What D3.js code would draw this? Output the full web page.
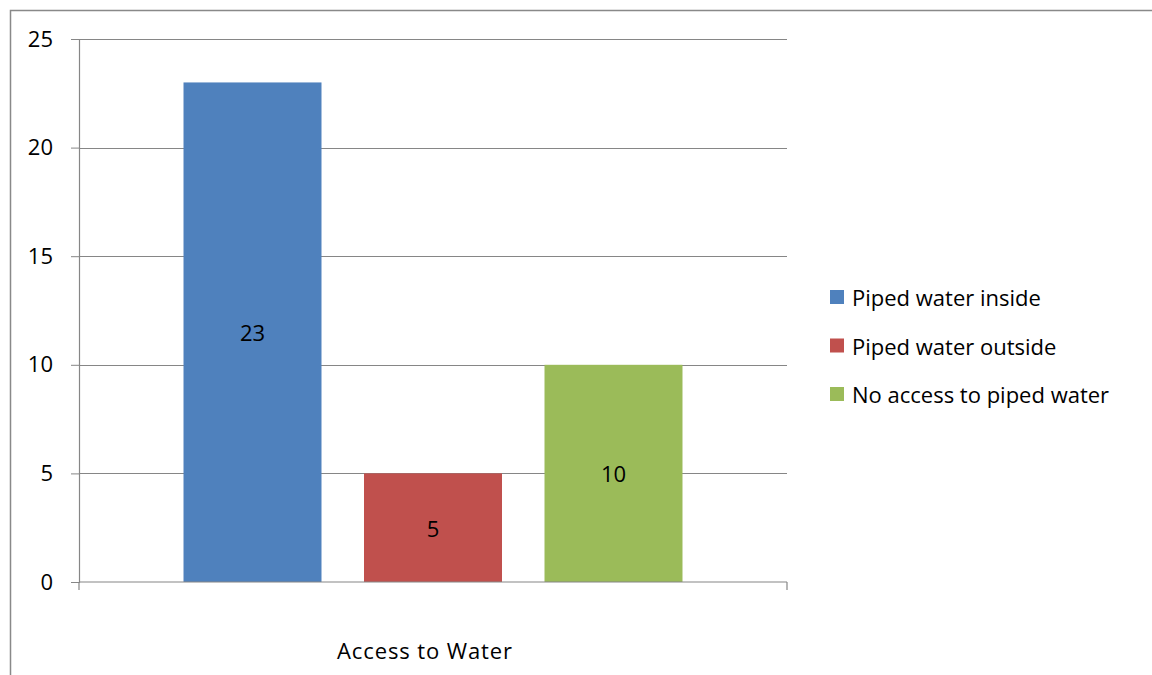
<!DOCTYPE html>
<html>
<head>
<meta charset="utf-8">
<script src="https://cdn.jsdelivr.net/npm/d3@7"></script>
<style>
  body { margin: 0; background: #fff; }
  text { font-family: 'Open Sans', Lato, sans-serif; fill: #000; }
</style>
</head>
<body>
<div id="chart"></div>
<script>
// data
const categories = ['Access to Water'];
const seriesNames = ['Piped water inside', 'Piped water outside', 'No access to piped water'];
const seriesValues = [23, 5, 10];
const seriesColors = ['#4F81BD', '#C0504D', '#9BBB59'];
const yTicks = [0, 5, 10, 15, 20, 25];

const W = 1152, H = 675;
const margin = { top: 39, left: 79, right: 365, bottom: 93 };
const width = W - margin.left - margin.right,
  height = H - margin.top - margin.bottom;
const fontSize = '22px';

const root = d3.select('#chart')
  .append('svg')
  .attr('width', W)
  .attr('height', H);

// outer chart border (cut off on right / bottom like the source)
root.append('path')
  .attr('d', 'M10.5,' + H + 'V10.5H' + W)
  .attr('fill', 'none')
  .attr('stroke', '#898989')
  .attr('stroke-width', 1.5);

const svg = root.append('g')
  .attr('transform', 'translate(' + margin.left + ',' + margin.top + ')');

// scales
const y = d3.scaleLinear().domain([0, 25]).range([height, 0]);
const x0 = d3.scaleBand().domain(categories).range([0, width]);
const x1 = d3.scaleBand()
  .domain(seriesNames)
  .range([0, x0.bandwidth()])
  .paddingInner(0.2355)
  .paddingOuter(0.579);

// gridlines
svg.append('g')
  .selectAll('line')
  .data(yTicks.filter(d => d > 0))
  .enter()
  .append('line')
  .attr('x1', 0)
  .attr('x2', width)
  .attr('y1', d => Math.round(y(d)) + 0.5)
  .attr('y2', d => Math.round(y(d)) + 0.5)
  .attr('stroke', '#868686')
  .attr('stroke-width', 1);

// y axis
const yAxis = svg.append('g')
  .call(d3.axisLeft(y).tickValues(yTicks).tickSize(8).tickPadding(18));
yAxis.select('.domain').attr('stroke', '#868686').attr('stroke-width', 1.2);
yAxis.selectAll('.tick line').attr('stroke', '#868686');
yAxis.selectAll('.tick text').style('font-size', fontSize).attr('fill', '#000');

// bars
const g = svg.append('g')
  .selectAll('g')
  .data(categories)
  .enter()
  .append('g')
  .attr('transform', d => 'translate(' + x0(d) + ',0)');

g.selectAll('rect')
  .data(seriesNames.map((s, i) => ({ name: s, value: seriesValues[i], color: seriesColors[i] })))
  .enter()
  .append('rect')
  .attr('x', d => x1(d.name))
  .attr('y', d => y(d.value))
  .attr('width', x1.bandwidth())
  .attr('height', d => height - y(d.value))
  .attr('fill', d => d.color);

// data labels
g.selectAll('text.val')
  .data(seriesNames.map((s, i) => ({ name: s, value: seriesValues[i] })))
  .enter()
  .append('text')
  .attr('class', 'val')
  .attr('x', d => x1(d.name) + x1.bandwidth() / 2)
  .attr('y', d => (y(d.value) + height) / 2)
  .attr('text-anchor', 'middle')
  .attr('dominant-baseline', 'central')
  .style('font-size', fontSize)
  .text(d => d.value);

// x axis
const xAxis = svg.append('g')
  .attr('transform', 'translate(0,' + height + ')');
xAxis.append('line')
  .attr('x1', 0).attr('x2', width)
  .attr('stroke', '#868686').attr('stroke-width', 1.2);
xAxis.selectAll('line.tk')
  .data([0, width])
  .enter()
  .append('line')
  .attr('class', 'tk')
  .attr('x1', d => d).attr('x2', d => d)
  .attr('y1', 0).attr('y2', 8)
  .attr('stroke', '#868686').attr('stroke-width', 1.2);
xAxis.selectAll('text')
  .data(categories)
  .enter()
  .append('text')
  .attr('x', d => x0(d) + x0.bandwidth() / 2 - 8)
  .attr('y', 68)
  .attr('text-anchor', 'middle')
  .attr('dominant-baseline', 'central')
  .style('font-size', fontSize)
  .style('letter-spacing', '0.9px')
  .text(d => d);

// legend
const legend = root.append('g')
  .attr('transform', 'translate(830,297)');
const item = legend.selectAll('g')
  .data(seriesNames)
  .enter()
  .append('g')
  .attr('transform', (d, i) => 'translate(0,' + (i * 48.5) + ')');
item.append('rect')
  .attr('x', 0).attr('y', -7)
  .attr('width', 14).attr('height', 14)
  .attr('fill', (d, i) => seriesColors[i]);
item.append('text')
  .attr('x', 22)
  .attr('y', 0)
  .attr('dominant-baseline', 'central')
  .style('font-size', fontSize)
  .text(d => d);
</script>
</body>
</html>
